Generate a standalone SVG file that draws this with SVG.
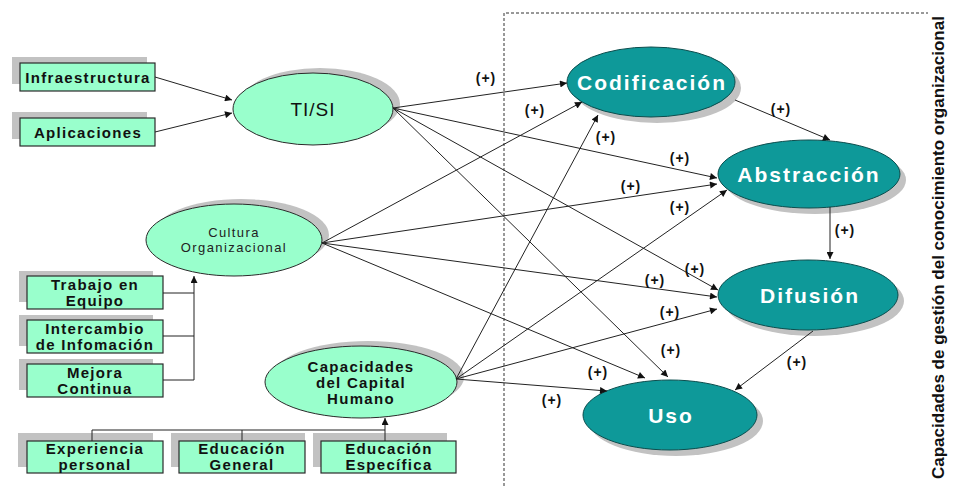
<svg xmlns="http://www.w3.org/2000/svg" width="955" height="486" viewBox="0 0 955 486">
<style>
.bg{fill:#ffffff}
.sh{fill:#c2c2c2}
.box{fill:#99ffcc;stroke:#2a2a2a;stroke-width:1.2}
.lel{fill:#99ffcc;stroke:#2a2a2a;stroke-width:1}
.tel{fill:#0e9999;stroke:#0b4d4d;stroke-width:1}
.bt{font-family:"Liberation Sans",Arial,sans-serif;font-size:15px;font-weight:bold;letter-spacing:1.3px;fill:#111;text-anchor:middle}
.wt{font-family:"Liberation Sans",Arial,sans-serif;font-size:21px;font-weight:bold;letter-spacing:2px;fill:#ffffff;text-anchor:middle}
.lt{font-family:"Liberation Sans",Arial,sans-serif;font-size:14px;font-weight:bold;letter-spacing:1px;fill:#111;text-anchor:middle}
.ln{stroke:#222;stroke-width:1;fill:none}
.ar{stroke:#222;stroke-width:1;fill:none;marker-end:url(#ah)}
.dash{stroke:#333;stroke-width:1;stroke-dasharray:3,2;fill:none}
</style>
<defs>
<marker id="ah" viewBox="0 0 10 10" refX="10" refY="5" markerWidth="9" markerHeight="7" markerUnits="userSpaceOnUse" orient="auto">
<path d="M0,0 L10,5 L0,10 z" fill="#111"/>
</marker>
</defs>
<rect class="bg" x="0" y="0" width="955" height="486"/>

<g id="frame">
<path class="dash" d="M504,486 V13 H928"/>
</g>

<g id="infraestructura">
<rect class="sh" x="12" y="57" width="135" height="27"/>
<rect class="box" x="20" y="63" width="135" height="28"/>
<text class="bt" x="88" y="83" font-size="16">Infraestructura</text>
</g>
<g id="aplicaciones">
<rect class="sh" x="12" y="112" width="135" height="27"/>
<rect class="box" x="20" y="118" width="135" height="28"/>
<text class="bt" x="88" y="138" font-size="16">Aplicaciones</text>
</g>

<g id="tisi">
<ellipse class="sh" cx="320" cy="104" rx="80" ry="36"/>
<ellipse class="lel" cx="313" cy="109" rx="80" ry="36"/>
<text x="313" y="116" font-family="Liberation Sans, Arial, sans-serif" font-size="19" letter-spacing="1" fill="#111" text-anchor="middle">TI/SI</text>
</g>

<g id="cultura">
<ellipse class="sh" cx="241" cy="235" rx="88" ry="36"/>
<ellipse class="lel" cx="234" cy="240" rx="88" ry="36"/>
<text font-family="Liberation Sans, Arial, sans-serif" font-size="13" letter-spacing="1.4" fill="#222" text-anchor="middle"><tspan x="234" y="237">Cultura</tspan><tspan x="234" y="252">Organizacional</tspan></text>
</g>

<g id="trabajo">
<rect class="sh" x="19" y="271" width="134" height="31"/>
<rect class="box" x="27" y="276" width="136" height="33"/>
<text class="bt"><tspan x="95" y="290">Trabajo en</tspan><tspan x="95" y="306">Equipo</tspan></text>
</g>
<g id="intercambio">
<rect class="sh" x="19" y="315" width="134" height="31"/>
<rect class="box" x="27" y="320" width="136" height="33"/>
<text class="bt"><tspan x="95" y="334">Intercambio</tspan><tspan x="95" y="350">de Infomación</tspan></text>
</g>
<g id="mejora">
<rect class="sh" x="19" y="359" width="134" height="31"/>
<rect class="box" x="27" y="364" width="136" height="33"/>
<text class="bt"><tspan x="95" y="378">Mejora</tspan><tspan x="95" y="394">Continua</tspan></text>
</g>

<g id="capacidades">
<ellipse class="sh" cx="368" cy="377" rx="96" ry="36"/>
<ellipse class="lel" cx="361" cy="382" rx="96" ry="36"/>
<text class="bt" letter-spacing="1.5"><tspan x="361" y="372">Capacidades</tspan><tspan x="361" y="388">del Capital</tspan><tspan x="361" y="404">Humano</tspan></text>
</g>

<g id="experiencia">
<rect class="sh" x="18" y="433" width="135" height="34"/>
<rect class="box" x="27" y="441" width="136" height="32"/>
<text class="bt"><tspan x="95" y="454">Experiencia</tspan><tspan x="95" y="470">personal</tspan></text>
</g>
<g id="edgeneral">
<rect class="sh" x="171" y="433" width="134" height="34"/>
<rect class="box" x="179" y="441" width="126" height="32"/>
<text class="bt"><tspan x="242" y="454">Educación</tspan><tspan x="242" y="470">General</tspan></text>
</g>
<g id="edespecifica">
<rect class="sh" x="313" y="433" width="134" height="34"/>
<rect class="box" x="321" y="441" width="135" height="32"/>
<text class="bt"><tspan x="389" y="454">Educación</tspan><tspan x="389" y="470">Específica</tspan></text>
</g>

<g id="codificacion">
<ellipse class="sh" cx="657" cy="88" rx="84" ry="35"/>
<ellipse class="tel" cx="651" cy="82" rx="84" ry="35"/>
<text class="wt" x="652" y="90">Codificación</text>
</g>
<g id="abstraccion">
<ellipse class="sh" cx="815" cy="180" rx="91" ry="34"/>
<ellipse class="tel" cx="809" cy="174" rx="91" ry="34"/>
<text class="wt" x="809" y="182">Abstracción</text>
</g>
<g id="difusion">
<ellipse class="sh" cx="814" cy="301" rx="90" ry="35"/>
<ellipse class="tel" cx="808" cy="295" rx="90" ry="35"/>
<text class="wt" x="810" y="303">Difusión</text>
</g>
<g id="uso">
<ellipse class="sh" cx="676" cy="421" rx="87" ry="35"/>
<ellipse class="tel" cx="670" cy="415" rx="87" ry="35"/>
<text class="wt" x="671" y="423">Uso</text>
</g>

<g id="connectors">
<line class="ar" x1="155" y1="77" x2="232" y2="100"/>
<line class="ar" x1="155" y1="132" x2="232" y2="113"/>
<path class="ln" d="M163,293 H194 M163,336 H194 M163,380 H194"/>
<line class="ar" x1="194" y1="380" x2="194" y2="276"/>
<path class="ln" d="M92,441 V430 H385 M242,441 V430"/>
<line class="ar" x1="385" y1="441" x2="385" y2="418"/>
<line class="ar" x1="393" y1="108" x2="567" y2="83"/>
<line class="ar" x1="393" y1="108" x2="717" y2="178"/>
<line class="ar" x1="393" y1="108" x2="718" y2="290"/>
<line class="ar" x1="393" y1="108" x2="668" y2="377"/>
<line class="ar" x1="322" y1="243" x2="582" y2="102"/>
<line class="ar" x1="322" y1="243" x2="717" y2="184"/>
<line class="ar" x1="322" y1="243" x2="717" y2="297"/>
<line class="ar" x1="322" y1="243" x2="645" y2="378"/>
<line class="ar" x1="456" y1="379" x2="598" y2="115"/>
<line class="ar" x1="456" y1="379" x2="727" y2="190"/>
<line class="ar" x1="456" y1="379" x2="717" y2="309"/>
<line class="ar" x1="456" y1="379" x2="607" y2="391"/>
<line class="ar" x1="735" y1="100" x2="830" y2="140"/>
<line class="ar" x1="830" y1="207" x2="830" y2="259"/>
<line class="ar" x1="813" y1="331" x2="735" y2="390"/>
</g>

<g id="labels">
<text class="lt" x="486" y="83">(+)</text>
<text class="lt" x="535" y="115">(+)</text>
<text class="lt" x="606" y="142">(+)</text>
<text class="lt" x="781" y="114">(+)</text>
<text class="lt" x="680" y="163">(+)</text>
<text class="lt" x="631" y="191">(+)</text>
<text class="lt" x="680" y="212">(+)</text>
<text class="lt" x="845" y="235">(+)</text>
<text class="lt" x="695" y="274">(+)</text>
<text class="lt" x="655" y="285">(+)</text>
<text class="lt" x="670" y="317">(+)</text>
<text class="lt" x="671" y="355">(+)</text>
<text class="lt" x="797" y="367">(+)</text>
<text class="lt" x="598" y="377">(+)</text>
<text class="lt" x="552" y="405">(+)</text>
</g>

<g id="title">
<text transform="translate(944,479) rotate(-90)" x="0" y="0" font-family="Liberation Sans, Arial, sans-serif" font-size="17" font-weight="bold" fill="#111">Capacidades de gestión del conocimiento organizacional</text>
</g>
</svg>
